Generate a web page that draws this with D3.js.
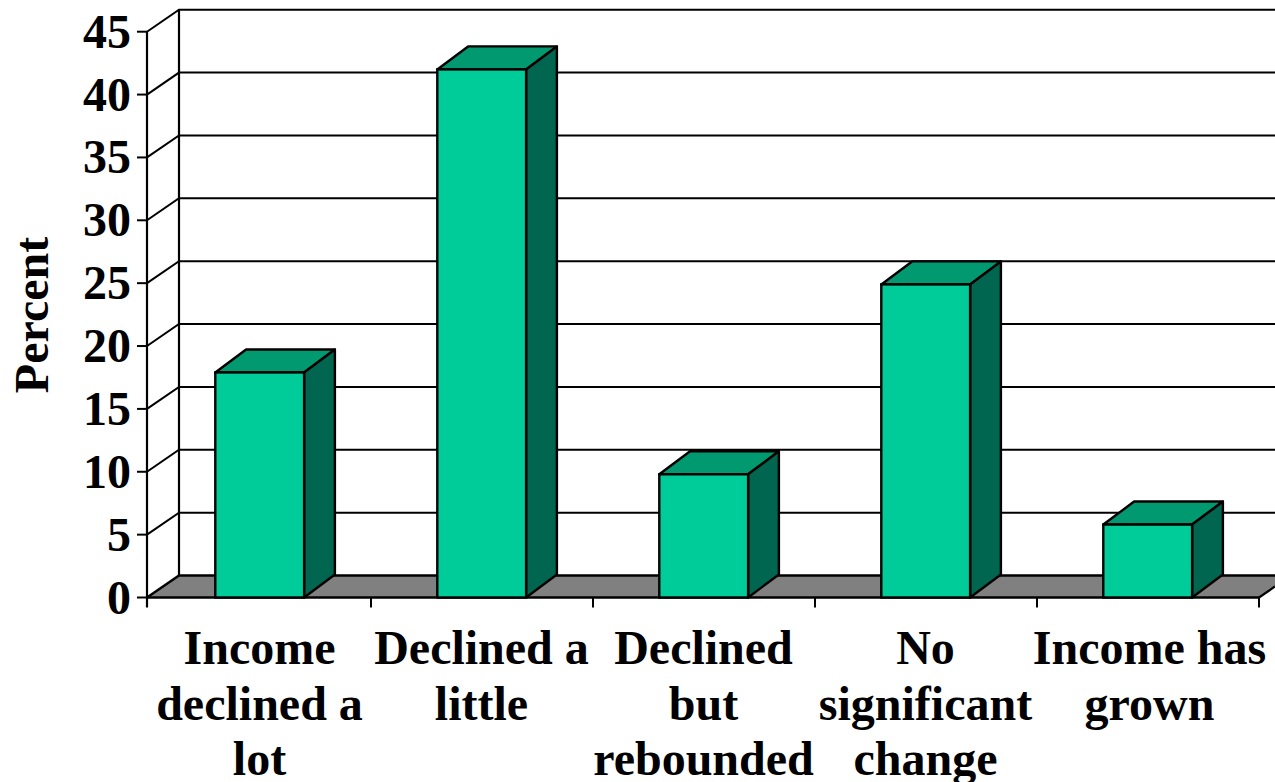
<!DOCTYPE html>
<html><head><meta charset="utf-8">
<script src="https://cdn.jsdelivr.net/npm/d3@7"></script>
<style>html,body{margin:0;padding:0;background:#fff;overflow:hidden}svg{display:block}
text{font-family:"Liberation Serif",serif;font-weight:700;fill:#000}</style></head>
<body><svg id="c" width="1275" height="782"></svg>
<script>
const categories=[["Income","declined a","lot"],["Declined a","little"],["Declined","but","rebounded"],["No","significant","change"],["Income has","grown"]];
const percents=[17.9,42,9.8,24.9,5.8];
const yTicks=[0,5,10,15,20,25,30,35,40,45];

const svg=d3.select("#c");
const plotLeft=147,bandLeft=149,plotRight=1259,plotBottom=597.5,plotTop=31.7;
const depthX=32,depthY=22;
const y=d3.scaleLinear().domain([0,45]).range([plotBottom,plotTop]);
const x=d3.scaleBand().domain(d3.range(categories.length)).range([bandLeft,plotRight]);
const barW=88.8, barDX=30.8, barDY=23;
const barOffset=66.3;
const line=(pts)=>"M"+pts.map(p=>p.join(",")).join("L");

// floor
svg.append("path").attr("d",line([[plotLeft,plotBottom],[plotLeft+depthX,plotBottom-depthY],[1275,plotBottom-depthY],[1275,plotBottom-11],[plotRight,plotBottom]])+"Z")
  .attr("fill","#808080").attr("stroke","none");
svg.append("path").attr("d",line([[plotLeft,plotBottom],[plotLeft+depthX,plotBottom-depthY],[1275,plotBottom-depthY]])).attr("fill","none").attr("stroke","#000").attr("stroke-width",2.4);
svg.append("path").attr("d",line([[plotRight,plotBottom],[1275,plotBottom-11]])).attr("fill","none").attr("stroke","#000").attr("stroke-width",2.2);

// gridlines
svg.append("g").selectAll("path").data(yTicks.slice(1)).join("path")
  .attr("d",d=>line([[plotLeft,y(d)],[plotLeft+depthX,y(d)-depthY],[1275,y(d)-depthY]]))
  .attr("fill","none").attr("stroke","#000").attr("stroke-width",2);
// back wall left edge, front axis
svg.append("path").attr("d",line([[plotLeft+depthX,y(45)-depthY],[plotLeft+depthX,plotBottom-depthY]])).attr("stroke","#000").attr("stroke-width",2.2);
svg.append("path").attr("d",line([[plotLeft,y(45)],[plotLeft,plotBottom+10]])).attr("stroke","#000").attr("stroke-width",2.2);
svg.append("path").attr("d",line([[plotLeft,plotBottom],[plotRight,plotBottom]])).attr("stroke","#000").attr("stroke-width",2.6);

// y ticks
const yt=svg.append("g").selectAll("g").data(yTicks).join("g").attr("transform",d=>`translate(0,${y(d)})`);
yt.append("line").attr("x1",plotLeft-10).attr("x2",plotLeft).attr("stroke","#000").attr("stroke-width",2);
yt.append("text").attr("x",131).attr("y",16).attr("text-anchor","end").attr("font-size",48).text(d=>d);

// x ticks
svg.append("g").selectAll("line").data(d3.range(1,categories.length+1)).join("line")
  .attr("x1",i=>bandLeft+i*x.bandwidth()).attr("x2",i=>bandLeft+i*x.bandwidth())
  .attr("y1",plotBottom).attr("y2",plotBottom+10).attr("stroke","#000").attr("stroke-width",2);

// bars
const bars=svg.append("g").selectAll("g").data(percents).join("g");
const bx=(i)=>x(i)+barOffset;
bars.append("path").attr("d",(d,i)=>line([[bx(i),y(d)],[bx(i)+barDX,y(d)-barDY],[bx(i)+barW+barDX,y(d)-barDY],[bx(i)+barW,y(d)]])+"Z")
  .attr("fill","#009970").attr("stroke","#000").attr("stroke-width",2.4).attr("stroke-linejoin","round");
bars.append("path").attr("d",(d,i)=>line([[bx(i)+barW,y(d)],[bx(i)+barW+barDX,y(d)-barDY],[bx(i)+barW+barDX,plotBottom-barDY],[bx(i)+barW,plotBottom]])+"Z")
  .attr("fill","#006650").attr("stroke","#000").attr("stroke-width",2.4).attr("stroke-linejoin","round");
bars.append("rect").attr("x",(d,i)=>bx(i)).attr("y",d=>y(d)).attr("width",barW).attr("height",d=>plotBottom-y(d))
  .attr("fill","#00CC99").attr("stroke","#000").attr("stroke-width",2.4);

// category labels
const lab=svg.append("g").selectAll("text").data(categories).join("text")
  .attr("text-anchor","middle").attr("font-size",48);
lab.each(function(lines,i){
  d3.select(this).selectAll("tspan").data(lines).join("tspan")
    .attr("x",x(i)+x.bandwidth()/2-0.5+(i===4?2:0)).attr("y",(d,j)=>664+j*55.6).text(d=>d);
});

// axis title
svg.append("text").attr("transform","translate(48,315) rotate(-90)").attr("text-anchor","middle").attr("font-size",48).text("Percent");
</script></body></html>
